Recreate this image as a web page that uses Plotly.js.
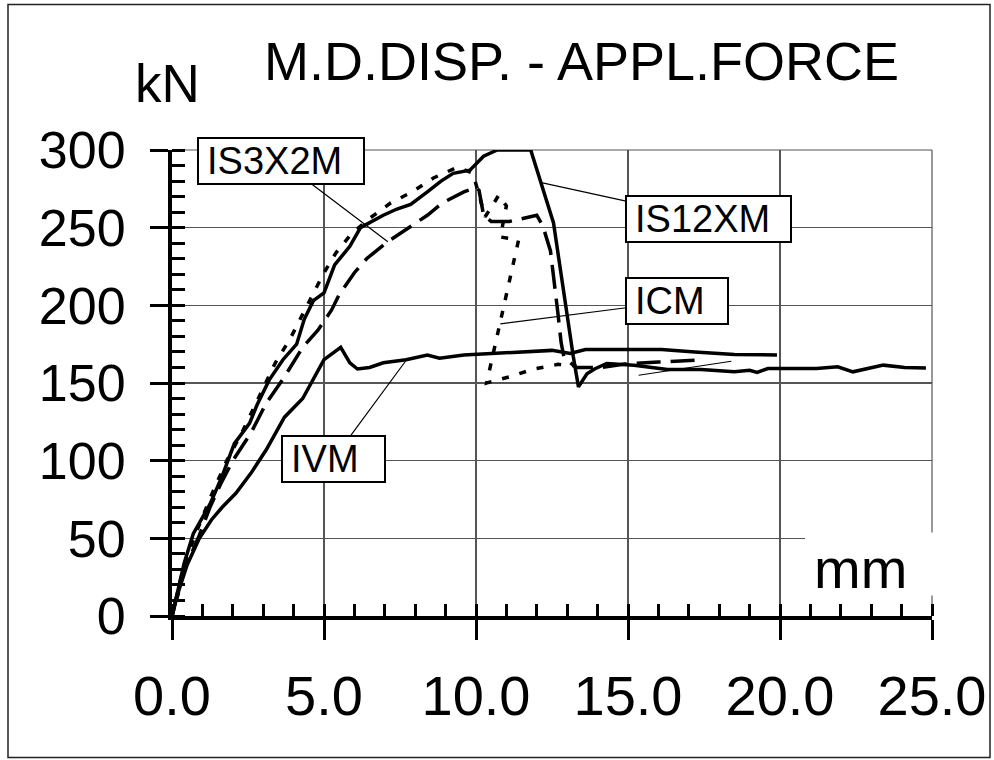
<!DOCTYPE html>
<html>
<head>
<meta charset="utf-8">
<script src="https://cdn.plot.ly/plotly-3.0.1.min.js"></script>
<style>
  html, body { margin: 0; padding: 0; background: #ffffff; }
  #chart { width: 994px; height: 760px; }
</style>
</head>
<body>
<div id="chart"></div>
<script>
// ---- Data ----
// IVM (solid, lower curve)
const ivmX = [0, 0.2, 0.5, 0.9, 1.3, 1.65, 2.1, 2.6, 3.1, 3.7, 4.3, 4.65, 5.0, 5.55, 5.85, 6.1, 6.5, 6.95, 7.7, 8.4, 8.8, 9.6, 10.7, 11.8, 12.5, 13.1, 13.6, 14.6, 16.1, 17.2, 18.5, 19.9];
const ivmY = [0, 15, 33, 50, 62, 70, 79, 92, 107, 128, 140, 153, 165, 173, 163, 159, 160, 163, 165, 168, 166, 168, 169, 170, 171, 169, 171.5, 171.5, 171.5, 170, 168.4, 168];

// IS12XM (solid, upper curve)
const is12X = [0, 0.2, 0.4, 0.7, 1.25, 1.65, 2.05, 2.55, 2.8, 3.2, 3.65, 4.1, 4.35, 4.65, 5.0, 5.35, 5.85, 6.2, 6.95, 7.4, 7.85, 8.4, 8.85, 9.25, 9.8, 10.25, 10.7, 11.8, 12.55, 13.2, 13.37, 13.65, 13.9, 14.3, 15.2, 16.3, 17.4, 18.5, 19.0, 19.25, 19.6, 21.2, 21.9, 22.4, 23.4, 24.1, 24.8];
const is12Y = [0, 18, 34, 53, 72, 90, 111, 124, 136, 152, 165, 175, 191, 203, 208, 226, 238, 250, 258, 262, 265, 273, 280, 285, 287, 296, 300, 300, 253, 167, 147.5, 156, 159, 162.6, 161.5, 158.7, 158.7, 157.2, 158.2, 156.8, 159.3, 159.3, 160.4, 157.2, 161.5, 160, 159.7];

// IS3X2M (long dashes)
const is3X = [0, 0.3, 0.5, 0.9, 1.25, 1.6, 2.0, 2.6, 3.1, 3.7, 4.3, 4.8, 5.25, 5.5, 6.0, 6.4, 7.1, 7.7, 8.4, 8.9, 9.6, 10.0, 10.1, 10.25, 10.5, 11.1, 12.0, 12.2, 12.45, 12.7, 12.8, 12.9, 13.3, 14.1, 15.0, 16.0, 17.3, 17.5];
const is3Y = [0, 25, 34, 52, 70, 85, 100, 118, 137, 154, 173, 184, 197, 207, 221, 230, 241, 249, 258, 266, 273, 276, 274, 258, 254, 254, 258, 251, 235, 194, 176, 166, 160, 160, 162.5, 163.5, 165, 165];

// ICM (short dashes)
const icmX = [0, 0.2, 0.4, 0.8, 1.3, 1.8, 2.3, 2.8, 3.4, 3.9, 4.3, 4.65, 5.0, 5.4, 5.9, 6.5, 7.2, 7.9, 8.6, 9.4, 9.9, 10.1, 10.3, 10.5, 10.75, 11.0, 10.8, 11.4, 10.35, 11.1, 11.9, 12.7, 13.3];
const icmY = [0, 14, 33, 54, 78, 100, 118, 138, 163, 179, 194, 208, 221, 234, 246, 256, 266, 273, 282, 289, 285, 271, 257, 263, 271, 264, 244, 242, 150, 154, 159, 162, 161];

// Labels: text, text-centre x/y, pointed x/y, box width px
const labelNames = ["IS3X2M", "IS12XM", "ICM", "IVM"];
const labelTextX = [3.59, 17.65, 16.62, 5.3];
const labelTextY = [292.9, 255.5, 202.7, 100.9];
const labelPointX = [7.1, 12.15, 10.8, 7.68];
const labelPointY = [241, 279, 188, 164];
const labelBoxW = [168, 167, 104, 105];

// extra thin leader line (no label)
const leaderX = [15.35, 18.4];
const leaderY = [155, 164];

const xTickVals = [0, 5, 10, 15, 20, 25];
const yTickVals = [0, 50, 100, 150, 200, 250, 300];

const FONT = "Liberation Sans, Arial, Helvetica, sans-serif";

// ---- Traces ----
const lineW = 3.5;
const traces = [
  { x: ivmX, y: ivmY, name: "IVM", mode: "lines", line: { color: "#000", width: lineW } },
  { x: is12X, y: is12Y, name: "IS12XM", mode: "lines", line: { color: "#000", width: lineW } },
  { x: is3X, y: is3Y, name: "IS3X2M", mode: "lines", line: { color: "#000", width: lineW, dash: "24px,10px" } },
  { x: icmX, y: icmY, name: "ICM", mode: "lines", line: { color: "#000", width: lineW, dash: "7px,11px" } },
  // empty trace so the overlay axes (inner half of major ticks) are drawn
  { x: [], y: [], xaxis: "x2", yaxis: "y2", mode: "lines", showlegend: false, hoverinfo: "skip" }
];

// ---- Annotations ----
const annotations = labelNames.map((t, i) => ({
  text: t,
  x: labelPointX[i], y: labelPointY[i],
  xref: "x", yref: "y",
  ax: labelTextX[i], ay: labelTextY[i],
  axref: "x", ayref: "y",
  showarrow: true, arrowhead: 0, arrowwidth: 1.2, arrowcolor: "#000",
  standoff: 0, startstandoff: 0,
  font: { family: FONT, size: 38, color: "#000" },
  bgcolor: "#fff", bordercolor: "#000", borderwidth: 2, borderpad: 8,
  width: labelBoxW[i] - 20, height: 28, align: "left", valign: "middle"
}));

annotations.push({
  text: "kN", xref: "paper", yref: "paper",
  x: (167 - 172) / 760, y: (615.6 - 83) / 466,
  xanchor: "center", yanchor: "middle", showarrow: false,
  font: { family: FONT, size: 53, color: "#000" }
});
annotations.push({
  text: "mm", xref: "paper", yref: "paper",
  x: (860 - 172) / 760, y: (615.6 - 568) / 466,
  xanchor: "center", yanchor: "middle", showarrow: false,
  font: { family: FONT, size: 56, color: "#000" }
});

// ---- Shapes ----
const shapes = [
  { type: "line", xref: "paper", yref: "paper", x0: 0, x1: 1, y0: 1, y1: 1, line: { color: "#555", width: 1.2 }, layer: "below" },
  { type: "line", xref: "paper", yref: "paper", x0: 1, x1: 1, y0: 0, y1: 1, line: { color: "#555", width: 1.2 }, layer: "below" },
  { type: "rect", xref: "paper", yref: "paper", x0: (805 - 172) / 760, x1: (938 - 172) / 760, y0: (615.6 - 595) / 466, y1: (615.6 - 532) / 466, fillcolor: "#fff", line: { width: 0 }, layer: "above" },
  { type: "line", xref: "x", yref: "y", x0: leaderX[0], y0: leaderY[0], x1: leaderX[1], y1: leaderY[1], line: { color: "#000", width: 1.2 }, layer: "above" },
  { type: "rect", xref: "paper", yref: "paper", x0: (8 - 172) / 760, x1: (990 - 172) / 760, y0: (615.6 - 757) / 466, y1: (615.6 - 4) / 466, line: { color: "#222", width: 1.5 }, fillcolor: "rgba(0,0,0,0)", layer: "below" }
];

const layout = {
  width: 994, height: 760,
  margin: { l: 172, r: 62, t: 150, b: 144, pad: 0 },
  paper_bgcolor: "#fff", plot_bgcolor: "#fff",
  showlegend: false,
  font: { family: FONT, color: "#000" },
  title: {
    text: "M.D.DISP. - APPL.FORCE",
    font: { family: FONT, size: 54, color: "#000" },
    xref: "paper", x: (581.5 - 172) / 760, xanchor: "center",
    yref: "container", y: 1 - 61 / 760, yanchor: "middle"
  },
  xaxis: {
    range: [0, 25], fixedrange: true,
    tickvals: xTickVals, tickformat: ".1f",
    ticks: "outside", ticklen: 20, tickwidth: 3, tickcolor: "#000",
    showline: true, linewidth: 4, linecolor: "#000",
    showgrid: true, gridcolor: "#555", gridwidth: 1.2,
    zeroline: false,
    ticklabelstandoff: 8,
    tickfont: { family: FONT, size: 56, color: "#000" },
    minor: { dtick: 1, tick0: 0, ticks: "inside", ticklen: 12, tickwidth: 3, tickcolor: "#000", showgrid: false }
  },
  yaxis: {
    range: [0, 300], fixedrange: true,
    tickvals: yTickVals,
    ticks: "outside", ticklen: 18, tickwidth: 3, tickcolor: "#000",
    showline: true, linewidth: 4, linecolor: "#000",
    showgrid: true, gridcolor: "#555", gridwidth: 1.2,
    zeroline: false,
    ticklabelstandoff: 14,
    tickfont: { family: FONT, size: 52, color: "#000" },
    minor: { dtick: 10, tick0: 0, ticks: "inside", ticklen: 13, tickwidth: 3, tickcolor: "#000", showgrid: false }
  },
  xaxis2: {
    overlaying: "x", anchor: "y", range: [0, 25], fixedrange: true,
    tickvals: xTickVals, ticks: "inside", ticklen: 12, tickwidth: 3, tickcolor: "#000",
    showticklabels: false, showgrid: false, showline: false, zeroline: false
  },
  yaxis2: {
    overlaying: "y", anchor: "x", range: [0, 300], fixedrange: true,
    tickvals: yTickVals, ticks: "inside", ticklen: 13, tickwidth: 3, tickcolor: "#000",
    showticklabels: false, showgrid: false, showline: false, zeroline: false
  },
  annotations: annotations,
  shapes: shapes
};

Plotly.newPlot("chart", traces, layout, { displayModeBar: false, staticPlot: true });
</script>
</body>
</html>
